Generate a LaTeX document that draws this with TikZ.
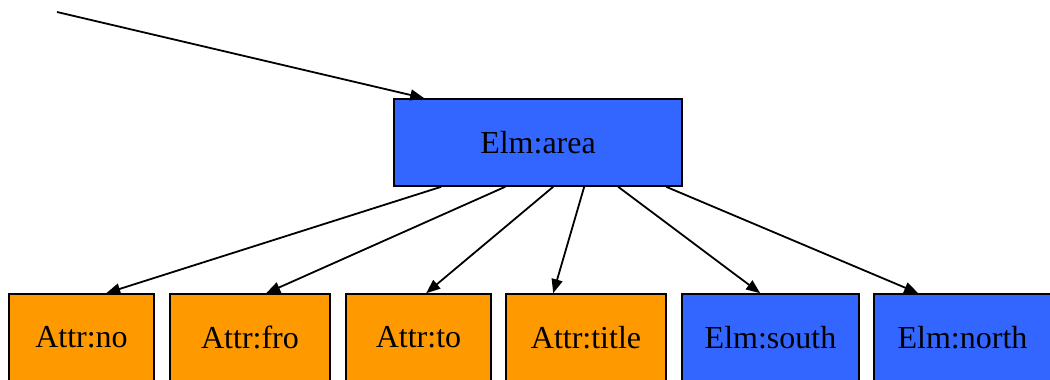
\documentclass[tikz,border=0pt]{standalone}
\usepackage{fontspec}
\setmainfont{Liberation Serif}
\usetikzlibrary{arrows.meta}
\definecolor{elmblue}{HTML}{3366FF}
\definecolor{attrorange}{HTML}{FF9900}
\begin{document}
\begin{tikzpicture}[x=1pt,y=-1pt,
  box/.style={draw=black,line width=1.6pt,rectangle,inner sep=0pt,minimum height=87pt,font=\fontsize{32}{38}\selectfont},
  elm/.style={box,fill=elmblue},
  attr/.style={box,fill=attrorange},
  conn/.style={line width=1.8pt,-{Triangle[length=14pt,width=11pt]}}]
\useasboundingbox (0,0) rectangle (1050,380);
\node[elm,minimum width=288pt] (area) at (538,142.5) {Elm:area};
\node[attr,minimum width=145pt] (no) at (81.5,337.5) {Attr:no};
\node[attr,minimum width=160pt] (fro) at (250,337.5) {Attr:fro};
\node[attr,minimum width=145pt] (to) at (418.5,337.5) {Attr:to};
\node[attr,minimum width=160pt] (title) at (586,337.5) {Attr:title};
\node[elm,minimum width=177pt] (south) at (770.5,337.5) {Elm:south};
\node[elm,minimum width=177pt] (north) at (962.5,337.5) {Elm:north};
\coordinate (start) at (57,12);
\draw[conn] (start) -- ([xshift=31pt]area.north west);
\draw[conn] ([xshift=48pt]area.south west) -- ([xshift=98pt]no.north west);
\draw[conn] ([xshift=112pt]area.south west) -- ([xshift=97pt]fro.north west);
\draw[conn] ([xshift=160pt]area.south west) -- ([xshift=81pt]to.north west);
\draw[conn] ([xshift=191pt]area.south west) -- ([xshift=48pt]title.north west);
\draw[conn] ([xshift=225pt]area.south west) -- ([xshift=79pt]south.north west);
\draw[conn] ([xshift=273pt]area.south west) -- ([xshift=45pt]north.north west);
\end{tikzpicture}
\end{document}
